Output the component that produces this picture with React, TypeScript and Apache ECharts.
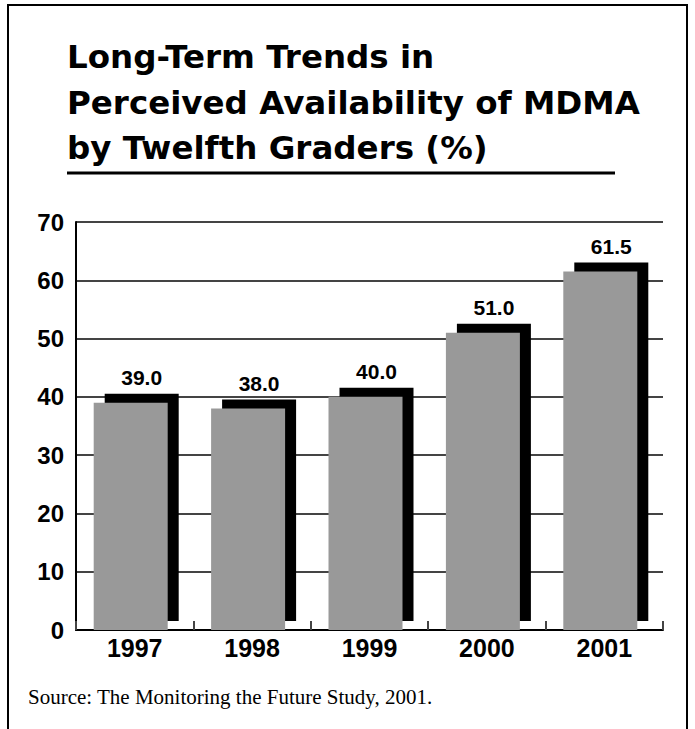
import React, { useEffect, useRef } from "react";
import * as echarts from "echarts";

const years: string[] = ["1997", "1998", "1999", "2000", "2001"];
const values: number[] = [39.0, 38.0, 40.0, 51.0, 61.5];
const titleLines: string[] = [
  "Long-Term Trends in",
  "Perceived Availability of MDMA",
  "by Twelfth Graders (%)",
];
const sourceText = "Source: The Monitoring the Future Study, 2001.";

const SANS = "'Liberation Sans', Arial, Helvetica, sans-serif";
const HEAVY = "'DejaVu Sans', 'Liberation Sans', sans-serif";
const SERIF = "'Liberation Serif', 'Times New Roman', serif";

export default function App() {
  const ref = useRef<HTMLDivElement>(null);

  useEffect(() => {
    if (!ref.current) return;
    const chart = echarts.init(ref.current, null, { renderer: "svg" });

    const renderItem = (params: any, api: any) => {
      const idx = api.value(0);
      const v = api.value(1);
      const top = api.coord([idx, v]);
      const base = api.coord([idx, 0]);
      const w = 74;
      const grayCx = top[0] - 4;
      const blackCx = top[0] + 7;
      const dy = 9;
      const h = base[1] - top[1];
      return {
        type: "group",
        children: [
          {
            type: "rect",
            shape: { x: blackCx - w / 2, y: top[1] - dy, width: w, height: h },
            style: { fill: "#000" },
          },
          {
            type: "rect",
            shape: { x: grayCx - w / 2, y: top[1], width: w, height: h },
            style: { fill: "#999999" },
          },
          {
            type: "text",
            style: {
              text: Number(v).toFixed(1),
              x: blackCx,
              y: top[1] - dy - 6,
              align: "center",
              verticalAlign: "bottom",
              fontSize: 21,
              fontWeight: "bold",
              fontFamily: SANS,
              fill: "#000",
            },
          },
        ],
      };
    };

    const option: any = {
      animation: false,
      backgroundColor: "#ffffff",
      grid: { left: 76, right: 32, top: 222, bottom: 99 },
      xAxis: {
        type: "category",
        data: years,
        boundaryGap: true,
        axisLine: { show: true, lineStyle: { color: "#000", width: 2 } },
        axisTick: { show: true, inside: true, length: 9, lineStyle: { color: "#444", width: 2 } },
        axisLabel: {
          color: "#000",
          fontWeight: "bold",
          fontSize: 25,
          fontFamily: SANS,
          margin: 5,
        },
        splitLine: { show: false },
      },
      yAxis: {
        type: "value",
        min: 0,
        max: 70,
        interval: 10,
        axisLine: { show: true, lineStyle: { color: "#000", width: 2 } },
        axisTick: { show: false },
        axisLabel: {
          color: "#000",
          fontWeight: "bold",
          fontSize: 24,
          fontFamily: SANS,
          margin: 12,
        },
        splitLine: { show: true, lineStyle: { color: "#444", width: 2 } },
      },
      series: [
        {
          type: "custom",
          data: values.map((v, i) => [i, v]),
          renderItem,
          z: 3,
        },
      ],
      graphic: [
        {
          type: "rect",
          shape: { x: 8, y: 5, width: 679, height: 780 },
          style: { fill: "none", stroke: "#000", lineWidth: 2 },
          silent: true,
        },
        ...titleLines.map((t, i) => ({
          type: "text",
          x: 67,
          y: 57 + i * 45.5,
          style: {
            text: t,
            fontSize: 32.5,
            fontWeight: "bold",
            fontFamily: HEAVY,
            fill: "#000",
            verticalAlign: "middle",
          },
        })),
        {
          type: "line",
          shape: { x1: 67, y1: 173, x2: 615, y2: 173 },
          style: { stroke: "#000", lineWidth: 3 },
        },
        {
          type: "text",
          x: 28,
          y: 697,
          style: {
            text: sourceText,
            fontSize: 21,
            fontFamily: SERIF,
            fill: "#000",
            verticalAlign: "middle",
          },
        },
      ],
    };

    chart.setOption(option);
    return () => {
      chart.dispose();
    };
  }, []);

  return (
    <div
      ref={ref}
      style={{ position: "fixed", left: 0, top: 0, width: 695, height: 729 }}
    />
  );
}
